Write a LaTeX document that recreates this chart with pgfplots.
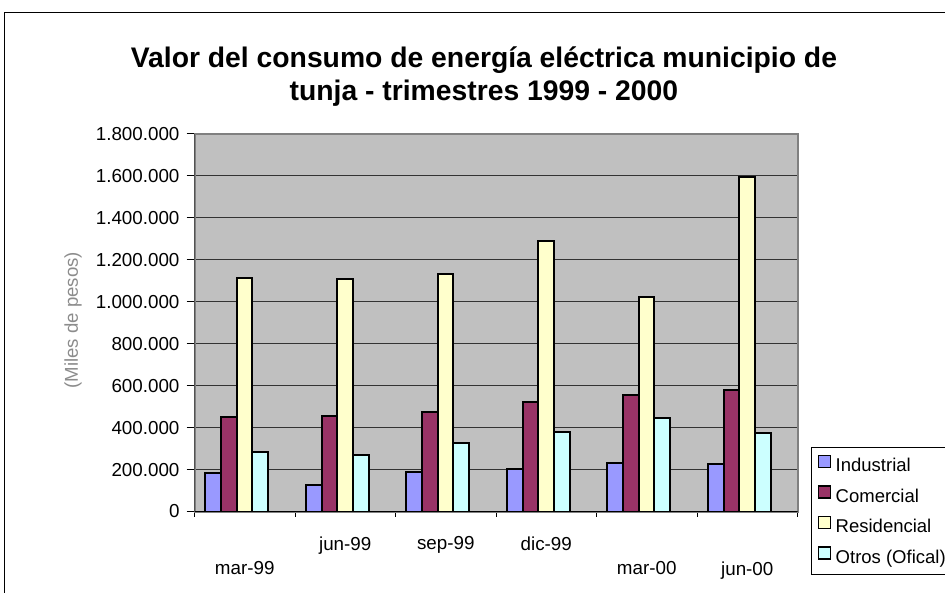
\documentclass[border=0pt]{standalone}
\usepackage{pgfplots}
\pgfplotsset{compat=1.18}
\usepackage{fontspec}
\setmainfont{Liberation Sans}
\definecolor{ind}{HTML}{9999FF}
\definecolor{com}{HTML}{993366}
\definecolor{res}{HTML}{FFFFCC}
\definecolor{otr}{HTML}{CCFFFF}
\definecolor{plotbg}{HTML}{C0C0C0}
\begin{document}
\begin{tikzpicture}
\useasboundingbox (0,0) rectangle (472.5bp,296.5bp);
\fill[white] (0,0) rectangle (472.5bp,296.5bp);
\draw[line width=0.75bp] (2.15bp,-1bp) -- (2.15bp,290.35bp) -- (480bp,290.35bp);
\begin{axis}[
  at={(97.25bp,40.75bp)}, anchor=south west,
  scale only axis, width=301.5bp, height=188.75bp,
  xmin=-0.5, xmax=5.5, ymin=0, ymax=1800000,
  ytick={0,200000,...,1800000},
  scaled y ticks=false,
  yticklabel style={/pgf/number format/.cd, fixed, 1000 sep={.}, assume math mode=true},
  every tick label/.append style={font=\fontsize{9.4bp}{11bp}\selectfont},
  xtick={1,2,3}, xticklabels={jun-99,sep-99,dic-99},
  extra x ticks={0,4,5}, extra x tick labels={mar-99,mar-00,jun-00},
  extra x tick style={xmajorgrids=false, xticklabel style={yshift=-12.5bp}},
  xticklabel style={yshift=-5.1bp},
  minor xtick={-0.5,0.5,...,5.5},
  tick align=outside,
  tick pos=left,
  major x tick style={draw=none},
  minor x tick style={black, line width=0.5bp},
  major y tick style={black, line width=0.5bp},
  minor tick length=2.5bp,
  major tick length=4bp,
  ymajorgrids,
  major grid style={black!80, line width=0.5bp},
  axis background/.style={fill=plotbg},
  axis line style={draw=gray, line width=1bp},
  title={Valor del consumo de energía eléctrica municipio de\\tunja - trimestres 1999 - 2000},
  title style={font=\bfseries\fontsize{14.15bp}{16.5bp}\selectfont, align=center, at={(axis description cs:0.480,1.058)}, anchor=base},
  ylabel={(Miles de pesos)},
  ylabel style={font=\fontsize{9.3bp}{11bp}\selectfont, text=gray!90, at={(axis description cs:-0.2015,0.507)}, anchor=center},
  ybar=0pt, bar width=7.85bp,
  every axis plot/.append style={line width=1bp, draw=black,
    legend image code/.code={\draw[##1,/tikz/.cd,line width=0.6bp,draw=black] (0bp,-0.4bp) rectangle (5.9bp,5.6bp);}},
  legend style={at={(axis description cs:1.0216,0.170)}, anchor=north west, draw=black, line width=0.5bp, fill=white,
    font=\fontsize{9.25bp}{11bp}\selectfont, inner xsep=3.35bp, inner ysep=3.5bp, row sep=4.85bp, column sep=2.5bp,
    nodes={inner sep=0pt, text height=7bp, text depth=2bp}},
  legend cell align=left,
]
\addplot[fill=ind] coordinates {(-0.08,182000) (0.92,126000) (1.92,190000) (2.92,204000) (3.92,231000) (4.92,228000)};
\addplot[fill=com] coordinates {(-0.08,452000) (0.92,457000) (1.92,473000) (2.92,524000) (3.92,556000) (4.92,581000)};
\addplot[fill=res] coordinates {(-0.08,1112000) (0.92,1107000) (1.92,1131000) (2.92,1291000) (3.92,1021000) (4.92,1594000)};
\addplot[fill=otr] coordinates {(-0.08,282000) (0.92,268000) (1.92,327000) (2.92,378000) (3.92,444000) (4.92,376000)};
\legend{Industrial,Comercial,Residencial,Otros (Ofical)}
\draw[black, line width=0.6bp] (rel axis cs:0,1) -- (rel axis cs:0,0) -- (rel axis cs:1,0);
\end{axis}
\end{tikzpicture}
\end{document}
